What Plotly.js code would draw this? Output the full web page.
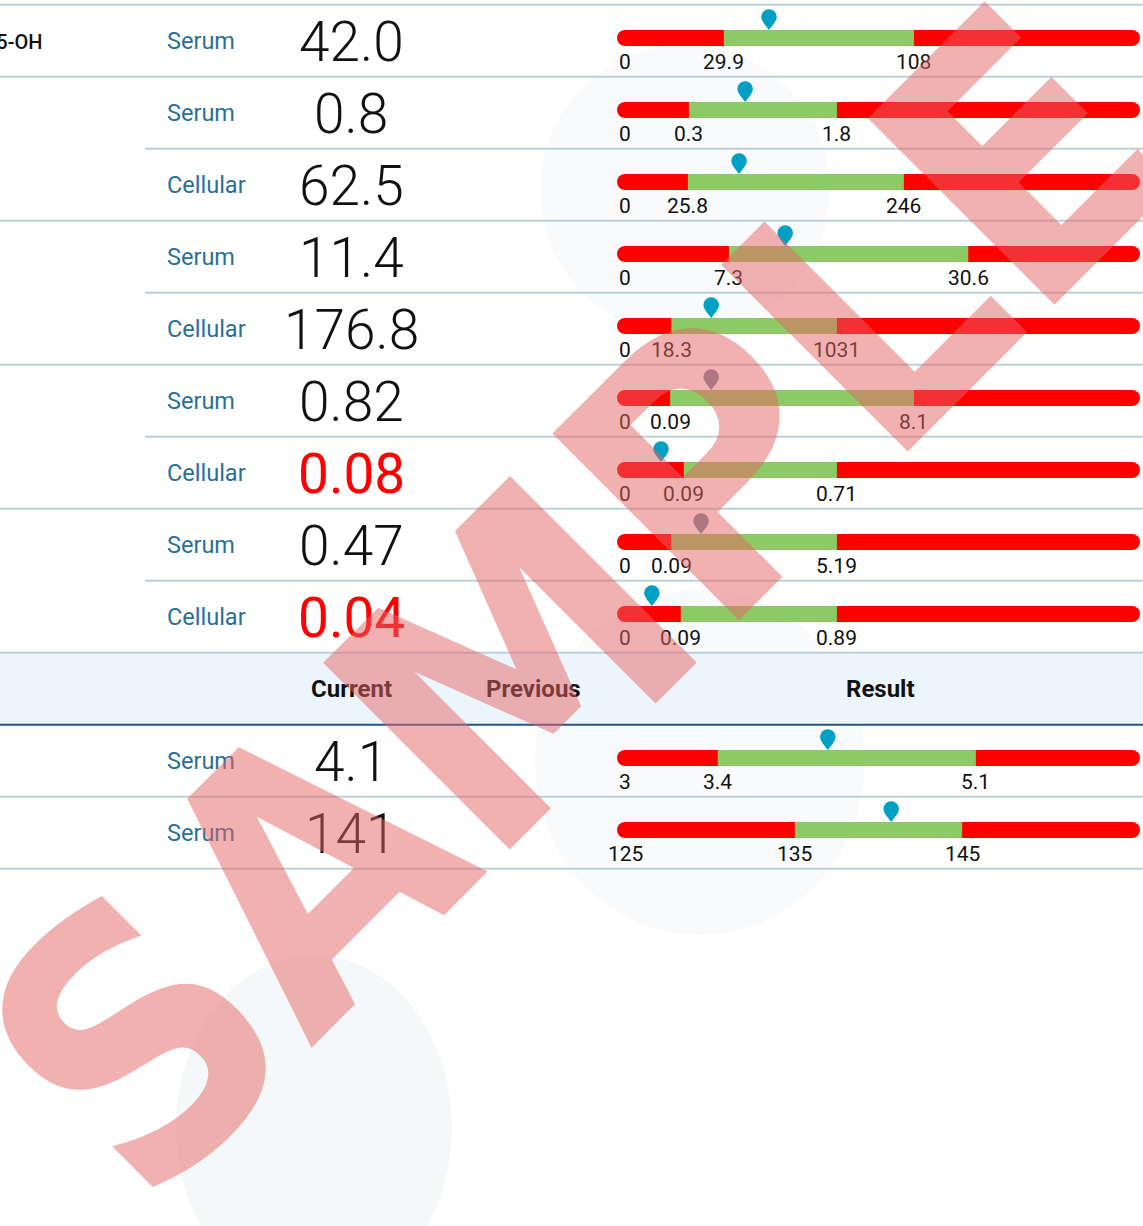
<!DOCTYPE html>
<html>
<head>
<meta charset="utf-8">
<script src="https://cdn.plot.ly/plotly-3.0.1.min.js"></script>
<style>
  html, body { margin: 0; padding: 0; background: #ffffff; }
  #chart { width: 1143px; height: 1226px; }
</style>
</head>
<body>
<div id="chart"></div>
<script>
// ---------------- data ----------------
const groupLabels   = ['25-OH', '', '', '', '', '', '', '', '', '', ''];
const sampleTypes   = ['Serum', 'Serum', 'Cellular', 'Serum', 'Cellular', 'Serum', 'Cellular', 'Serum', 'Cellular', 'Serum', 'Serum'];
const currentValues = ['42.0', '0.8', '62.5', '11.4', '176.8', '0.82', '0.08', '0.47', '0.04', '4.1', '141'];
const outOfRange    = [false, false, false, false, false, false, true, false, true, false, false];
const minLabels     = ['0', '0', '0', '0', '0', '0', '0', '0', '0', '3', '125'];
const lowLabels     = ['29.9', '0.3', '25.8', '7.3', '18.3', '0.09', '0.09', '0.09', '0.09', '3.4', '135'];
const highLabels    = ['108', '1.8', '246', '30.6', '1031', '8.1', '0.71', '5.19', '0.89', '5.1', '145'];
// gauge scale: percent of the gauge track
const lowScale      = [19.5, 12.6, 12.4, 20.5, 9.1, 8.9, 11.6, 9.1, 11.0, 18.3, 33.5];
const highScale     = [57.0, 41.8, 55.0, 67.7, 41.8, 57.0, 41.8, 41.8, 41.8, 69.2, 66.5];
const markerScale   = [28.4, 23.7, 22.5, 31.6, 17.0, 17.0, 7.1, 15.0, 5.3, 40.0, 52.5];
const markerKind    = ['current', 'current', 'current', 'current', 'current', 'previous', 'current', 'previous', 'current', 'current', 'current'];
const headerLabels  = ['Current', 'Previous', 'Result'];

// ---------------- layout helpers ----------------
const W = 1143, H = 1226;
const ROW = 72, ROW0 = 40.7;            // row height and first row centre (px)
const px = x => x / W;
const py = y => 1 - y / H;
// row slots: 9 rows, a header slot, then 2 rows
const slot = sampleTypes.map((_, i) => (i < 9 ? i : i + 1));
const rowCenterPx = s => ROW0 + ROW * s;
const u = dpx => dpx / ROW;              // px offset -> y units

const RED = '#ff0000', GREEN = '#8dc964';
const PIN = { current: '#00a0c4', previous: '#778899' };

// ---------------- traces ----------------
const barY = slot.map(s => s - u(2.7));
const track = {
  type: 'bar', orientation: 'h', y: barY, x: slot.map(() => 100), base: slot.map(() => 0),
  width: u(16), marker: { color: RED, line: { width: 0 } }, hoverinfo: 'skip'
};
const normal = {
  type: 'bar', orientation: 'h', y: barY,
  x: highScale.map((h, i) => h - lowScale[i]), base: lowScale,
  width: u(16), marker: { color: GREEN, line: { width: 0 } }, hoverinfo: 'skip'
};
const caps = {
  type: 'scatter', mode: 'markers', cliponaxis: false,
  x: slot.map(() => 0).concat(slot.map(() => 100)),
  y: barY.concat(barY),
  marker: { symbol: 'circle', size: 16, color: RED, line: { width: 0 } }, hoverinfo: 'skip'
};
const pinColors = markerKind.map(k => PIN[k]);
const pinHead = {
  type: 'scatter', mode: 'markers', cliponaxis: false, x: markerScale, y: slot.map(s => s - u(23.6)),
  marker: { symbol: 'circle', size: 15.5, color: pinColors, line: { width: 0 } }, hoverinfo: 'skip'
};
const pinTip = {
  type: 'scatter', mode: 'markers', cliponaxis: false, x: markerScale, y: slot.map(s => s - u(15.7)),
  marker: { symbol: 'triangle-down', size: 10, color: pinColors, line: { width: 0 } }, hoverinfo: 'skip'
};

// ---------------- shapes ----------------
const shapes = [];
// faint background logo shapes
const faint = 'rgba(222,234,240,0.22)';
shapes.push({ type: 'circle', xref: 'paper', yref: 'paper', layer: 'below', x0: px(540), x1: px(830), y0: py(45), y1: py(335), fillcolor: faint, line: { width: 0 } });
shapes.push({ type: 'circle', xref: 'paper', yref: 'paper', layer: 'below', x0: px(535), x1: px(865), y0: py(590), y1: py(935), fillcolor: faint, line: { width: 0 } });
shapes.push({ type: 'circle', xref: 'paper', yref: 'paper', layer: 'below', x0: px(176), x1: px(452), y0: py(955), y1: py(1300), fillcolor: 'rgba(222,232,232,0.3)', line: { width: 0 } });
// header band
const headTop = 4.7 + ROW * 9, headBot = 4.7 + ROW * 10;
shapes.push({ type: 'rect', xref: 'paper', yref: 'paper', layer: 'below', x0: 0, x1: 1, y0: py(headTop), y1: py(headBot), fillcolor: '#ecf4fc', line: { width: 0 } });
// row separators
const partial = [2, 4, 6, 8];
for (let k = 0; k <= 12; k++) {
  const y = 4.7 + ROW * k;
  const dark = (k === 10);
  shapes.push({
    type: 'line', xref: 'paper', yref: 'paper', layer: 'above',
    x0: partial.includes(k) ? px(145) : 0, x1: 1, y0: py(y), y1: py(y),
    line: { color: dark ? '#1f5b86' : '#bcd0dc', width: 2 }
  });
}

// ---------------- annotations ----------------
const ann = [];
const FONT = 'Roboto, "Open Sans", sans-serif';
slot.forEach((s, i) => {
  const c = rowCenterPx(s);
  if (groupLabels[i]) {
    ann.push({ xref: 'paper', yref: 'paper', x: px(45), y: py(c + 1), xanchor: 'right', yanchor: 'middle', showarrow: false,
      text: groupLabels[i], font: { family: FONT, size: 20, color: '#111111', weight: 500 } });
  }
  ann.push({ xref: 'paper', yref: 'paper', x: px(165), y: py(c + 0.5), xanchor: 'left', yanchor: 'middle', showarrow: false,
    text: sampleTypes[i], font: { family: FONT, size: 23.5, color: '#2a6f97' } });
  ann.push({ xref: 'paper', yref: 'paper', x: px(351), y: py(c + 1), xanchor: 'center', yanchor: 'middle', showarrow: false,
    text: currentValues[i],
    font: { family: FONT, size: 55, color: outOfRange[i] ? RED : '#111111', weight: outOfRange[i] ? 400 : 300 } });
  const ty = s + u(21.5);
  [[0, minLabels[i]], [lowScale[i], lowLabels[i]], [highScale[i], highLabels[i]]].forEach(([xv, t]) => {
    ann.push({ xref: 'x', yref: 'y', x: xv, y: ty, xanchor: 'center', yanchor: 'middle', showarrow: false,
      text: t, font: { family: FONT, size: 21, color: '#111111' } });
  });
});
const headC = (headTop + headBot) / 2;
[[351, headerLabels[0]], [533, headerLabels[1]], [880, headerLabels[2]]].forEach(([x, t]) => {
  ann.push({ xref: 'paper', yref: 'paper', x: px(x), y: py(headC), xanchor: 'center', yanchor: 'middle', showarrow: false,
    text: t, font: { family: FONT, size: 24, color: '#111111', weight: 700 } });
});
// watermark
ann.push({ xref: 'paper', yref: 'paper', x: px(578), y: py(603), xanchor: 'center', yanchor: 'middle', showarrow: false,
  text: 'SAMPLE', textangle: -45,
  font: { family: '"Liberation Sans Narrow", "DejaVu Sans Condensed", "Liberation Sans", sans-serif', size: 362, color: 'rgba(230,100,100,0.5)', weight: 700 } });

const layout = {
  width: W, height: H, margin: { l: 0, r: 0, t: 0, b: 0 },
  paper_bgcolor: '#ffffff', plot_bgcolor: 'rgba(0,0,0,0)',
  showlegend: false, barmode: 'overlay', dragmode: false,
  xaxis: { domain: [px(625), px(1132)], range: [0, 100], visible: false, fixedrange: true },
  yaxis: { domain: [0, 1], range: [(H - ROW0) / ROW, -ROW0 / ROW], visible: false, fixedrange: true },
  shapes: shapes, annotations: ann
};

Plotly.newPlot('chart', [track, normal, caps, pinTip, pinHead], layout, { staticPlot: true, displayModeBar: false });
</script>
</body>
</html>
